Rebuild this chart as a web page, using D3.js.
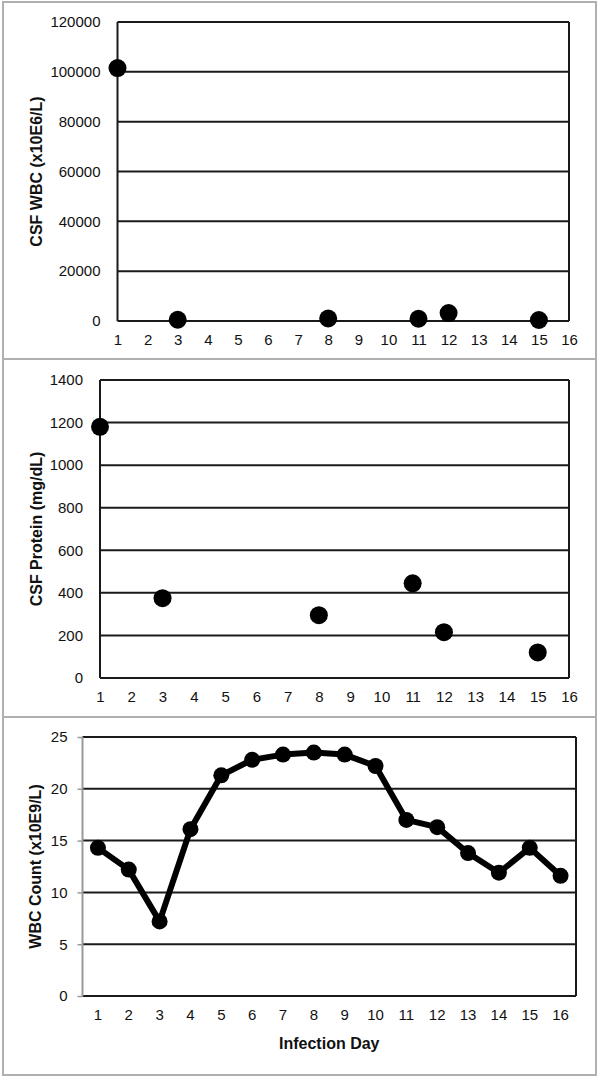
<!DOCTYPE html>
<html>
<head>
<meta charset="utf-8">
<script src="https://cdn.jsdelivr.net/npm/d3@7"></script>
<style>
  body { margin: 0; background: #fff; }
  svg { display: block; font-family: "Liberation Sans", Arial, sans-serif; }
  .tick text { fill: #111; font-size: 15px; }
  .ytitle, .xtitle { font-weight: bold; font-size: 16px; fill: #111; }
</style>
</head>
<body>
<svg id="chart" width="600" height="1077"></svg>
<script>
// infection days on the x axis
const days = d3.range(1, 17);

// CSF WBC (x10E6/L), sampled days only
const csfWbcDays   = [1, 3, 8, 11, 12, 15];
const csfWbcValues = [101500, 500, 1000, 900, 3200, 400];
const csfWbcTicks  = [0, 20000, 40000, 60000, 80000, 100000, 120000];

// CSF protein (mg/dL)
const proteinDays   = [1, 3, 8, 11, 12, 15];
const proteinValues = [1180, 375, 295, 445, 215, 120];
const proteinTicks  = [0, 200, 400, 600, 800, 1000, 1200, 1400];

// blood WBC count (x10E9/L), every day
const wbcValues = [14.3, 12.2, 7.2, 16.1, 21.3, 22.8, 23.3, 23.5, 23.3, 22.2, 17.0, 16.3, 13.8, 11.9, 14.3, 11.6];
const wbcTicks  = [0, 5, 10, 15, 20, 25];

const svg = d3.select("#chart");

const panels = [
  { box: [3, 2, 596, 359], plot: { left: 117.5, right: 569, top: 22, bottom: 321 },
    title: "CSF WBC (x10E6/L)", titleX: 36, ticks: csfWbcTicks,
    xs: csfWbcDays, ys: csfWbcValues, band: false, line: false, r: 9, grayAxis: false },
  { box: [3, 359, 596, 717], plot: { left: 100, right: 569, top: 380, bottom: 678 },
    title: "CSF Protein (mg/dL)", titleX: 36, ticks: proteinTicks,
    xs: proteinDays, ys: proteinValues, band: false, line: false, r: 9, grayAxis: false },
  { box: [3, 717, 596, 1075], plot: { left: 82.5, right: 576, top: 737, bottom: 996 },
    title: "WBC Count (x10E9/L)", titleX: 35, ticks: wbcTicks,
    xs: days, ys: wbcValues, band: true, line: true, r: 8, grayAxis: true, xTitle: "Infection Day" }
];

panels.forEach(p => {
  const { left, right, top, bottom } = p.plot;

  // panel frame
  svg.append("rect")
    .attr("x", p.box[0]).attr("y", p.box[1])
    .attr("width", p.box[2] - p.box[0]).attr("height", p.box[3] - p.box[1])
    .attr("fill", "none").attr("stroke", "#b0b0b0").attr("stroke-width", 2);

  const y = d3.scaleLinear()
    .domain([0, d3.max(p.ticks)])
    .range([bottom, top]);

  const x = p.band
    ? d3.scaleBand().domain(days).range([left, right])
    : d3.scalePoint().domain(days).range([left, right]);
  const xPos = d => p.band ? x(d) + x.bandwidth() / 2 : x(d);

  // gridlines
  svg.append("g")
    .selectAll("line")
    .data(p.ticks)
    .join("line")
    .attr("x1", left).attr("x2", right)
    .attr("y1", d => y(d)).attr("y2", d => y(d))
    .attr("stroke", "#1a1a1a").attr("stroke-width", 2);

  // right plot edge
  svg.append("line")
    .attr("x1", right).attr("x2", right).attr("y1", top).attr("y2", bottom)
    .attr("stroke", "#1a1a1a").attr("stroke-width", 2);

  // y axis
  const yAxis = svg.append("g")
    .attr("transform", `translate(${left},0)`)
    .call(d3.axisLeft(y).tickValues(p.ticks).tickSize(p.grayAxis ? 5 : 0)
      .tickPadding(p.grayAxis ? 10 : 17).tickFormat(d3.format("d")));
  yAxis.select(".domain")
    .attr("stroke", p.grayAxis ? "#999" : "#1a1a1a")
    .attr("stroke-width", 2)
    .attr("d", `M0,${top}V${bottom}`);
  yAxis.selectAll(".tick line").attr("stroke", "#999").attr("stroke-width", 1.5);

  // x axis labels
  const xAxis = svg.append("g")
    .attr("transform", `translate(0,${bottom})`)
    .call(d3.axisBottom(x).tickSize(0).tickPadding(13));
  xAxis.select(".domain").remove();

  // y axis title
  svg.append("text")
    .attr("class", "ytitle")
    .attr("transform", `translate(${p.titleX},${(top + bottom) / 2}) rotate(-90)`)
    .attr("text-anchor", "middle")
    .attr("dominant-baseline", "central")
    .text(p.title);

  if (p.xTitle) {
    svg.append("text")
      .attr("class", "xtitle")
      .attr("x", (left + right) / 2)
      .attr("y", bottom + 53)
      .attr("text-anchor", "middle")
      .text(p.xTitle);
  }

  const pts = p.xs.map((d, i) => [d, p.ys[i]]);

  if (p.line) {
    svg.append("path")
      .datum(pts)
      .attr("fill", "none")
      .attr("stroke", "#000")
      .attr("stroke-width", 6)
      .attr("stroke-linejoin", "round")
      .attr("d", d3.line().x(d => xPos(d[0])).y(d => y(d[1])));
  }

  svg.append("g")
    .selectAll("circle")
    .data(pts)
    .join("circle")
    .attr("cx", d => xPos(d[0]))
    .attr("cy", d => y(d[1]))
    .attr("r", p.r)
    .attr("fill", "#000");
});
</script>
</body>
</html>
